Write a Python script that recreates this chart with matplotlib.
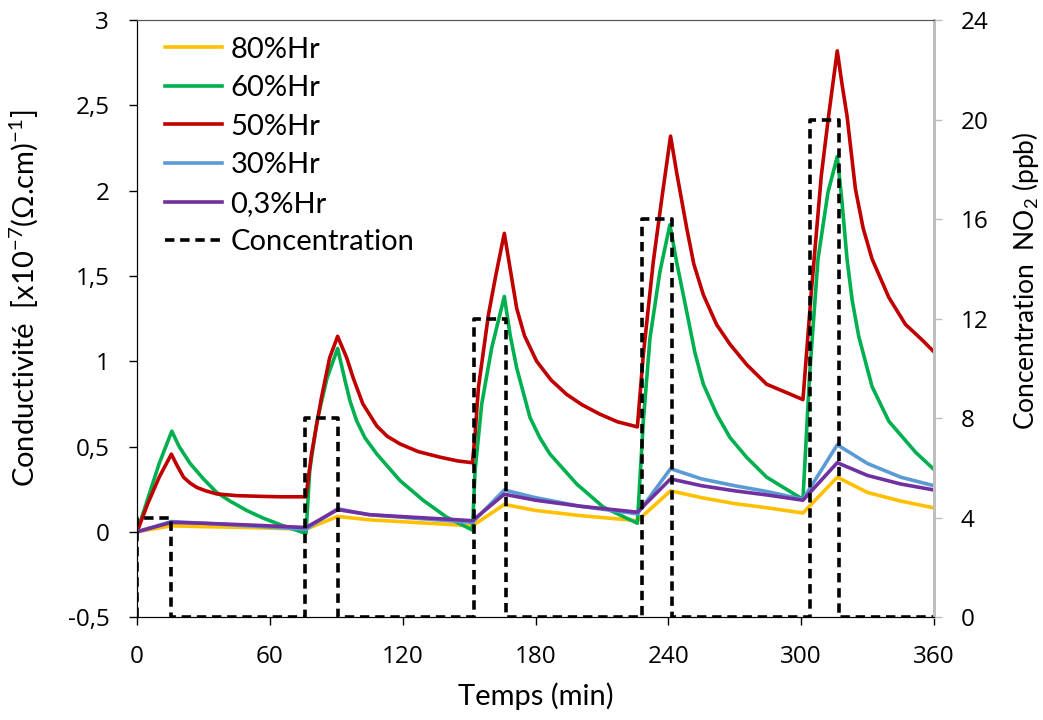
import matplotlib.pyplot as plt
from matplotlib.ticker import FuncFormatter

# time (min) and conductivity values, one pair per humidity level
t_50 = [0, 5, 10, 15.5, 18, 21, 24, 27, 31, 36, 45, 55, 65, 76.3,
        78.8, 83.3, 87, 90.6, 94.7, 97.7, 102, 108.3, 113, 118.8, 127, 137, 145, 151.5,
        152.7, 154.2, 158.7, 162, 165.9, 168.5, 171.5, 175, 180.5, 187, 194, 201, 209, 217, 226,
        228.7, 233.2, 237, 241, 243.7, 248.3, 251.5, 255.8, 261.8, 267.8, 275.4, 284.4, 293.4, 300.8,
        304.6, 309.1, 312.5, 316.3, 318.5, 320.7, 324.5, 328, 332, 339.6, 347.1, 354.7, 360]
v_50 = [0, 0.17, 0.32, 0.455, 0.39, 0.32, 0.285, 0.26, 0.24, 0.222, 0.212, 0.208, 0.205, 0.205,
        0.456, 0.786, 1.02, 1.146, 1.02, 0.90, 0.75, 0.62, 0.56, 0.515, 0.47, 0.437, 0.415, 0.405,
        0.573, 0.845, 1.27, 1.5, 1.75, 1.545, 1.31, 1.15, 1.0, 0.89, 0.806, 0.745, 0.69, 0.645, 0.615,
        1.04, 1.584, 1.95, 2.32, 2.11, 1.78, 1.57, 1.39, 1.215, 1.10, 0.98, 0.865, 0.816, 0.775,
        1.41, 2.09, 2.45, 2.82, 2.62, 2.44, 2.01, 1.78, 1.60, 1.374, 1.216, 1.124, 1.055]

t_60 = [0, 5, 10, 15.7, 19, 24, 30, 36, 42, 49.5, 57, 65, 76.3,
        78, 81.3, 85.8, 90.6, 94, 96.2, 99.2, 103, 108.3, 118.8, 129.3, 139.8, 151.5,
        152.7, 155.7, 160.2, 165.9, 168.5, 171.5, 177.5, 182, 186.5, 198.6, 210.6, 226,
        228.7, 231.7, 236.2, 240.7, 243.7, 248.3, 252, 255.8, 261.8, 267.8, 275.4, 284.4, 300.8,
        303.8, 307.6, 312.1, 316.3, 318.4, 320.7, 323, 326, 332, 339.6, 351.7, 360]
v_60 = [0, 0.2, 0.4, 0.59, 0.50, 0.40, 0.31, 0.23, 0.18, 0.125, 0.08, 0.04, -0.01,
        0.36, 0.65, 0.90, 1.075, 0.884, 0.767, 0.65, 0.55, 0.456, 0.30, 0.184, 0.086, 0.01,
        0.36, 0.75, 1.078, 1.38, 1.156, 0.96, 0.67, 0.55, 0.456, 0.28, 0.145, 0.05,
        0.65, 1.136, 1.526, 1.80, 1.584, 1.29, 1.05, 0.865, 0.69, 0.553, 0.436, 0.32, 0.19,
        0.92, 1.60, 1.99, 2.20, 1.94, 1.60, 1.36, 1.146, 0.852, 0.648, 0.466, 0.365]

t_low = [0, 15.5, 30, 50, 76.3, 90.6, 105, 125, 151.5, 165.9, 180, 200, 226,
         241, 255, 270, 285, 300.8, 316.3, 330, 345, 360]
v_30 = [0, 0.06, 0.05, 0.035, 0.015, 0.135, 0.10, 0.08, 0.055, 0.245, 0.20, 0.15, 0.105,
        0.37, 0.31, 0.27, 0.235, 0.19, 0.51, 0.40, 0.32, 0.27]
v_03 = [0, 0.055, 0.05, 0.04, 0.025, 0.13, 0.10, 0.085, 0.065, 0.22, 0.185, 0.15, 0.115,
        0.31, 0.27, 0.24, 0.215, 0.185, 0.405, 0.33, 0.28, 0.245]
v_80 = [0, 0.035, 0.03, 0.025, 0.015, 0.09, 0.07, 0.055, 0.035, 0.16, 0.125, 0.095, 0.065,
        0.24, 0.20, 0.165, 0.14, 0.11, 0.32, 0.23, 0.18, 0.14]

# NO2 steps (ppb)
t_conc = [0, 0, 15.2, 15.2, 76, 76, 90.7, 90.7, 152, 152, 166.7, 166.7, 228.2, 228.2,
          241.8, 241.8, 304, 304, 317, 317, 360]
c_conc = [0, 4, 4, 0, 0, 8, 8, 0, 0, 12, 12, 0, 0, 16, 16, 0, 0, 20, 20, 0, 0]

plt.rcParams['font.family'] = ['Open Sans', 'DejaVu Sans']
plt.rcParams['mathtext.fontset'] = 'custom'
plt.rcParams['mathtext.rm'] = 'Lato'
plt.rcParams['mathtext.it'] = 'Lato'

fig = plt.figure(figsize=(10.43, 7.2), dpi=100)
ax = fig.add_axes([0.1314, 0.143, 0.7641, 0.829])
ax2 = ax.twinx()

lw = 2.6
l80, = ax.plot(t_low, v_80, color='#FFC000', lw=lw, label='80%Hr')
l60, = ax.plot(t_60, v_60, color='#00B050', lw=lw, label='60%Hr')
l50, = ax.plot(t_50, v_50, color='#C00000', lw=lw, label='50%Hr')
l30, = ax.plot(t_low, v_30, color='#5B9BD5', lw=lw, label='30%Hr')
l03, = ax.plot(t_low, v_03, color='#7030A0', lw=lw, label='0,3%Hr')
lc, = ax2.plot(t_conc, c_conc, color='black', lw=2.6, ls=(0, (2.6, 1.6)), label='Concentration')

ax.set_xlim(0, 360)
ax.set_ylim(-0.5, 3)
ax.set_xticks(range(0, 361, 60))
ax.set_yticks([-0.5, 0, 0.5, 1, 1.5, 2, 2.5, 3])
ax.yaxis.set_major_formatter(FuncFormatter(lambda v, p: ('%g' % v).replace('.', ',')))
ax2.set_ylim(0, 24)
ax2.set_yticks(range(0, 25, 4))

ax.tick_params(axis='x', labelsize=17.5, direction='out', length=6, width=1, pad=14)
ax.tick_params(axis='y', labelsize=17.5, direction='out', length=6, width=1, pad=14)
ax2.tick_params(axis='y', labelsize=17.5, direction='out', length=6, width=1,
                color='#BFBFBF', pad=13)

for a in (ax, ax2):
    a.spines['top'].set_color('#595959')
    a.spines['right'].set_color('#BFBFBF')
    a.spines['right'].set_linewidth(2)
    a.spines['left'].set_color('black')
    a.spines['bottom'].set_color('black')

ax.set_xlabel('Temps (min)', fontsize=21, family='Lato')
ax.xaxis.set_label_coords(0.5, -0.109)
ax.set_ylabel('Conductivité  [x10$^{-7}$(Ω.cm)$^{-1}$]', fontsize=21, family='Lato')
ax.yaxis.set_label_coords(-0.122, 0.534)
ax2.set_ylabel('Concentration  NO$_2$ (ppb)', fontsize=19, family='Lato')
ax2.yaxis.set_label_coords(1.095, 0.564)

ax2.legend(handles=[l80, l60, l50, l30, l03, lc], loc='upper left', bbox_to_anchor=(0.02, 0.992),
           frameon=False, prop={'family': 'Lato', 'size': 21},
           handlelength=1.95, handletextpad=0.3, labelspacing=0.43, borderaxespad=0)

fig.savefig('out.png', dpi=100)
